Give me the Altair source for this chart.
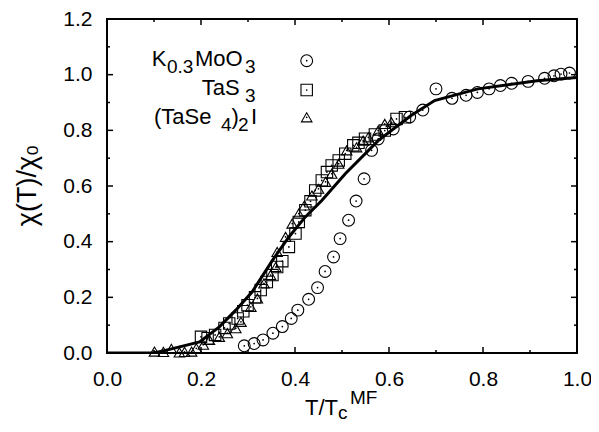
import altair as alt
import pandas as pd

FONT = "Liberation Sans"

# mean-field / model curve
curve_x = [0.0, 0.10, 0.133, 0.197, 0.239, 0.274, 0.309, 0.352, 0.387, 0.422, 0.457,
           0.507, 0.577, 0.647, 0.697, 0.789, 0.915, 1.0]
curve_y = [0.0, 0.0, 0.013, 0.040, 0.094, 0.154, 0.220, 0.333, 0.417, 0.489, 0.548,
           0.644, 0.763, 0.853, 0.907, 0.949, 0.978, 0.990]

# K0.3MoO3 (circles)
k_x = [0.292, 0.313, 0.332, 0.353, 0.373, 0.392, 0.406, 0.429, 0.448, 0.464, 0.482,
       0.496, 0.514, 0.530, 0.547, 0.563, 0.577, 0.609, 0.644, 0.672, 0.700, 0.734,
       0.764, 0.788, 0.813, 0.837, 0.861, 0.896, 0.931, 0.951, 0.966, 0.984]
k_y = [0.026, 0.034, 0.047, 0.071, 0.095, 0.124, 0.154, 0.193, 0.235, 0.293, 0.345,
       0.411, 0.477, 0.546, 0.626, 0.728, 0.769, 0.805, 0.848, 0.873, 0.949, 0.915,
       0.926, 0.936, 0.949, 0.961, 0.969, 0.976, 0.987, 0.996, 1.002, 1.006]

# TaS3 (squares)
tas_x = [0.200, 0.214, 0.230, 0.250, 0.260, 0.278, 0.290, 0.299, 0.315, 0.327, 0.340,
         0.352, 0.362, 0.373, 0.387, 0.401, 0.408, 0.422, 0.433, 0.443, 0.457, 0.468,
         0.478, 0.493, 0.507, 0.524, 0.535, 0.549, 0.570, 0.591, 0.616, 0.634]
tas_y = [0.058, 0.053, 0.065, 0.090, 0.106, 0.124, 0.150, 0.172, 0.200, 0.226, 0.255,
         0.280, 0.309, 0.330, 0.381, 0.429, 0.471, 0.513, 0.545, 0.584, 0.620, 0.650,
         0.674, 0.692, 0.716, 0.746, 0.755, 0.770, 0.785, 0.799, 0.841, 0.847]

# (TaSe4)2I (triangles)
tase_x = [0.101, 0.120, 0.137, 0.154, 0.165, 0.180, 0.190, 0.205, 0.218, 0.239, 0.256,
          0.274, 0.285, 0.306, 0.320, 0.334, 0.348, 0.359, 0.362, 0.380, 0.394, 0.408,
          0.420, 0.436, 0.450, 0.465, 0.478, 0.493, 0.510, 0.531, 0.545, 0.556, 0.577,
          0.591, 0.605]
tase_y = [0.005, 0.004, 0.015, 0.002, 0.004, 0.005, 0.017, 0.030, 0.047, 0.058, 0.071,
          0.089, 0.112, 0.166, 0.196, 0.250, 0.280, 0.309, 0.363, 0.417, 0.465, 0.501,
          0.530, 0.566, 0.590, 0.615, 0.644, 0.680, 0.728, 0.739, 0.763, 0.775, 0.799,
          0.823, 0.829]

x_major = [0.0, 0.2, 0.4, 0.6, 0.8, 1.0]
x_minor = [0.1, 0.3, 0.5, 0.7, 0.9]
y_major = [0.0, 0.2, 0.4, 0.6, 0.8, 1.0, 1.2]
y_minor = [0.1, 0.3, 0.5, 0.7, 0.9, 1.1]

W, H = 470, 334
xs = alt.Scale(domain=[0, 1], nice=False, zero=False)
ys = alt.Scale(domain=[0, 1.2], nice=False, zero=False)

XAX = alt.Axis(values=x_major, format=".1f", title=None, grid=False, domain=False,
               ticks=False, tickSize=0, labelPadding=15, labelFlush=False,
               labelFontSize=21, labelFont=FONT, labelColor="black")
YAX = alt.Axis(values=y_major, format=".1f", title="χ(T)/χ₀", grid=False, domain=False,
               ticks=False, tickSize=0, labelPadding=15, labelFlush=False,
               labelFontSize=21, labelFont=FONT, labelColor="black",
               titleFont=FONT, titleFontSize=27, titleFontWeight="normal",
               titleColor="black", titleAngle=270, titleAlign="center",
               titleBaseline="middle", titleX=-80, titleY=166)


def X(f):
    return alt.X(f, scale=xs, axis=XAX)


def Y(f):
    return alt.Y(f, scale=ys, axis=YAX)


one = pd.DataFrame({"a": [0]})

curve = alt.Chart(pd.DataFrame({"x": curve_x, "y": curve_y})).mark_line(
    color="black", strokeWidth=3, clip=True
).encode(x=X("x:Q"), y=Y("y:Q"))


def pts(xv, yv, shape, size):
    df = pd.DataFrame({"x": xv, "y": yv})
    sym = alt.Chart(df).mark_point(
        shape=shape, size=size, filled=False, color="black", strokeWidth=1.1, opacity=1
    ).encode(x=X("x:Q"), y=Y("y:Q"))
    dot = alt.Chart(df).mark_circle(size=3, color="black", opacity=1).encode(
        x=X("x:Q"), y=Y("y:Q"))
    return [sym, dot]


def ticks(vals, axis, length):
    df = pd.DataFrame({axis: vals})
    out = []
    if axis == "x":
        for y0, y1 in [(H, H - length), (0, length)]:
            out.append(alt.Chart(df).mark_rule(color="black", strokeWidth=1.5).encode(
                x=X("x:Q"), y=alt.value(y0), y2=alt.value(y1)))
    else:
        for x0, x1 in [(0, length), (W, W - length)]:
            out.append(alt.Chart(df).mark_rule(color="black", strokeWidth=1.5).encode(
                y=Y("y:Q"), x=alt.value(x0), x2=alt.value(x1)))
    return out


def txt(t, x, y, size, align="left"):
    return alt.Chart(one).mark_text(
        text=t, align=align, baseline="alphabetic", font=FONT, fontSize=size, color="black"
    ).encode(x=alt.value(x), y=alt.value(y))


def legsym(shape, size, x, y):
    s = alt.Chart(one).mark_point(shape=shape, size=size, filled=False, color="black",
                                  strokeWidth=1.1, opacity=1).encode(
        x=alt.value(x), y=alt.value(y))
    d = alt.Chart(one).mark_circle(size=3, color="black", opacity=1).encode(
        x=alt.value(x), y=alt.value(y))
    return [s, d]


layers = [curve]
layers += pts(k_x, k_y, "circle", 140)
layers += pts(tas_x, tas_y, "square", 130)
layers += pts(tase_x, tase_y, "triangle-up", 110)
layers += ticks(x_major, "x", 6) + ticks(x_minor, "x", 3)
layers += ticks(y_major, "y", 6) + ticks(y_minor, "y", 3)

# legend (offsets are relative to the plot's top-left corner)
MAIN, SUB = 22, 19
layers += [txt("K", 44.7, 47, MAIN), txt("0.3", 60, 54, SUB), txt("MoO", 88, 47, MAIN),
           txt("3", 138, 54, SUB)]
layers += [txt("TaS", 94.7, 76, MAIN), txt("3", 138, 83, SUB)]
layers += [txt("(TaSe", 47, 105, MAIN), txt("4", 114, 112, SUB),
           txt(")", 124.5, 105, MAIN), txt("2", 131, 112, SUB),
           txt("I", 144, 105, MAIN)]
layers += legsym("circle", 140, 199.7, 41.7)
layers += legsym("square", 130, 199.7, 71)
layers += legsym("triangle-up", 110, 199.7, 98.3)

# x-axis title T/Tc^MF
layers += [txt("T/T", 198, 396, MAIN), txt("c", 231, 400, SUB), txt("MF", 243, 385, SUB)]

chart = alt.layer(*layers).properties(
    width=W, height=H,
    background="white",
    autosize=alt.AutoSizeParams(type="none"),
    padding={"left": 99, "top": 11, "right": 14, "bottom": 71},
).configure_view(stroke="black", strokeWidth=2)

chart.save("out.html", embed_options={"renderer": "svg", "actions": False})
